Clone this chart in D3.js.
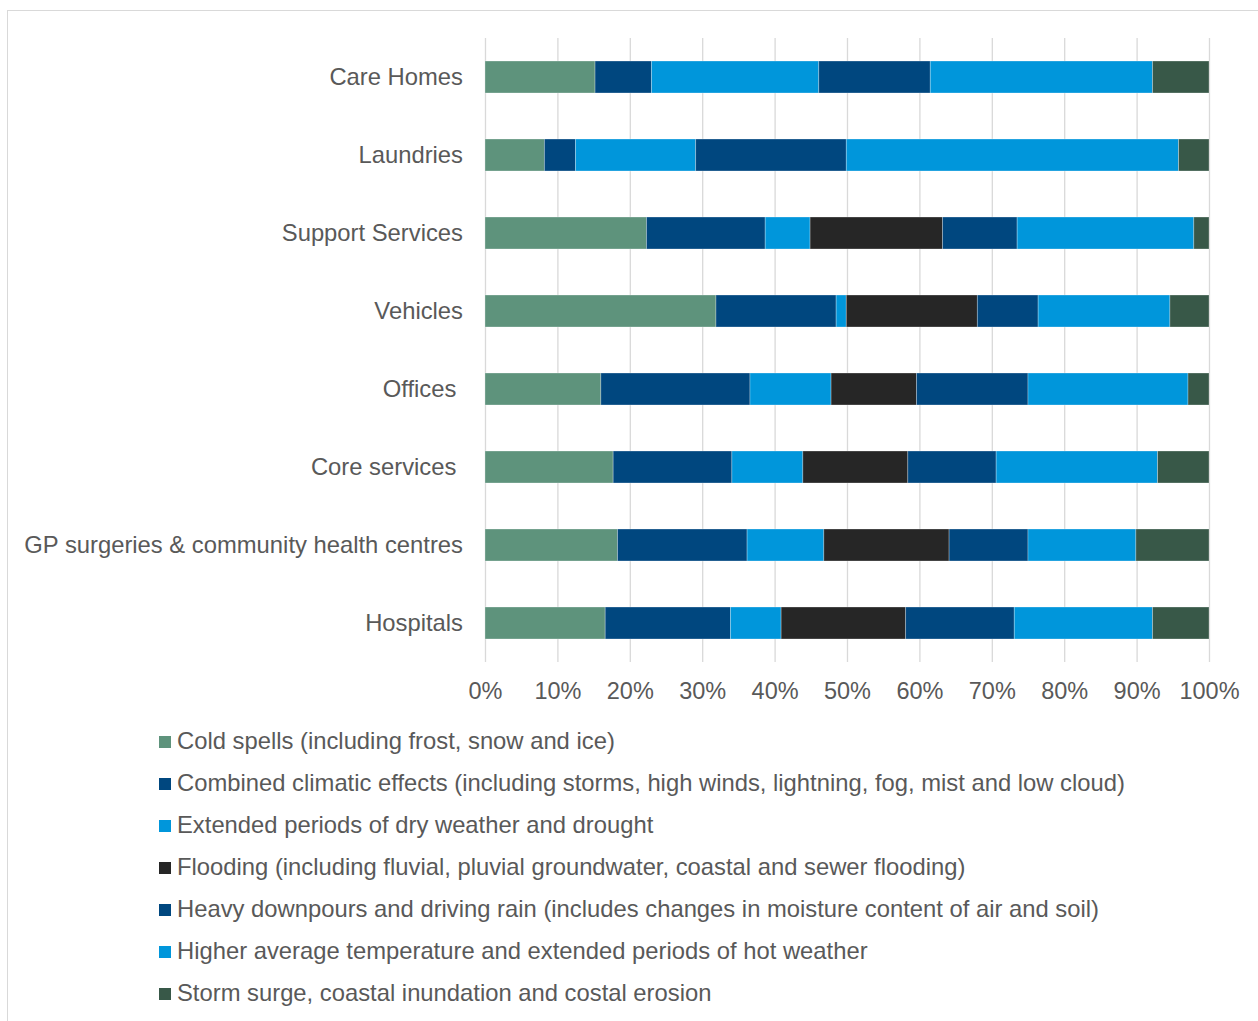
<!DOCTYPE html>
<html>
<head>
<meta charset="utf-8">
<script src="https://cdn.jsdelivr.net/npm/d3@7"></script>
<style>
  html, body { margin: 0; padding: 0; background: #ffffff; }
  svg { display: block; font-family: "Liberation Sans", Arial, sans-serif; }
  text { white-space: pre; }
</style>
</head>
<body>
<svg id="chart" width="1258" height="1021"></svg>
<script>
// Asset categories (top to bottom) and the share (%) of each climate hazard
const categories = [
  "Care Homes",
  "Laundries",
  "Support Services",
  "Vehicles",
  "Offices ",
  "Core services ",
  "GP surgeries & community health centres",
  "Hospitals"
];

const coldSpells      = [15.2,  8.2, 22.3, 31.9, 16.0, 17.7, 18.3, 16.6];
const combinedEffects = [ 7.8,  4.3, 16.4, 16.6, 20.6, 16.4, 17.9, 17.3];
const dryWeather      = [23.1, 16.6,  6.2,  1.4, 11.2,  9.8, 10.6,  7.0];
const flooding        = [ 0.0,  0.0, 18.3, 18.1, 11.8, 14.5, 17.3, 17.2];
const heavyDownpours  = [15.4, 20.8, 10.3,  8.4, 15.4, 12.2, 10.9, 15.0];
const higherTemp      = [30.7, 45.9, 24.4, 18.2, 22.1, 22.3, 14.9, 19.1];
const stormSurge      = [ 7.8,  4.2,  2.1,  5.4,  2.9,  7.1, 10.1,  7.8];

const seriesNames = [
  "Cold spells (including frost, snow and ice)",
  "Combined climatic effects (including storms, high winds, lightning, fog, mist and low cloud)",
  "Extended periods of dry weather and drought",
  "Flooding (including fluvial, pluvial groundwater, coastal and sewer flooding)",
  "Heavy downpours and driving rain (includes changes in moisture content of air and soil)",
  "Higher average temperature and extended periods of hot weather",
  "Storm surge, coastal inundation and costal erosion"
];
const seriesValues = [coldSpells, combinedEffects, dryWeather, flooding, heavyDownpours, higherTemp, stormSurge];
const seriesColors = ["#5e937c", "#00477f", "#0096db", "#262626", "#00477f", "#0096db", "#385848"];

const tickValues = [0, 10, 20, 30, 40, 50, 60, 70, 80, 90, 100];

// Row table for d3.stack
const rows = categories.map((c, i) => {
  const r = { category: c };
  seriesNames.forEach((s, k) => { r[s] = seriesValues[k][i]; });
  return r;
});

const svg = d3.select("#chart");
const textColor = "#595959";
const labelSize = "23.8px";

// Chart frame
svg.append("rect")
  .attr("x", 7.5).attr("y", 10.5)
  .attr("width", 1300).attr("height", 1100)
  .attr("fill", "none").attr("stroke", "#d9d9d9").attr("stroke-width", 1);

const x = d3.scaleLinear().domain([0, 100]).range([485, 1209]);
const y = d3.scaleBand().domain(categories).range([38, 662])
  .paddingInner(0.59).paddingOuter(0.295);

// Vertical gridlines and percentage labels
const xAxis = svg.append("g")
  .attr("transform", "translate(0,662)")
  .call(d3.axisBottom(x)
    .tickValues(tickValues)
    .tickFormat(d => d + "%")
    .tickSizeInner(-(662 - 38))
    .tickSizeOuter(0)
    .tickPadding(20));
xAxis.select(".domain").remove();
xAxis.selectAll(".tick line").attr("stroke", "#d9d9d9").attr("stroke-width", 1.3);
xAxis.selectAll(".tick text")
  .attr("fill", textColor)
  .style("font-size", "23.5px")
  .style("font-family", "'Liberation Sans', Arial, sans-serif");

// Stacked segments
const stack = d3.stack().keys(seriesNames);
const layers = stack(rows);

svg.append("g").selectAll("g")
  .data(layers)
  .join("g")
  .attr("fill", (d, i) => seriesColors[i])
  .selectAll("rect")
  .data(d => d)
  .join("rect")
  .attr("x", d => x(d[0]))
  .attr("y", d => y(d.data.category))
  .attr("width", d => Math.max(0, x(d[1]) - x(d[0])))
  .attr("height", y.bandwidth())
  .attr("stroke", "#ffffff")
  .attr("stroke-opacity", 0.35)
  .attr("stroke-width", 0.8);

// Category labels
const yAxis = svg.append("g")
  .attr("transform", "translate(463,0)")
  .call(d3.axisLeft(y).tickSize(0).tickPadding(0));
yAxis.select(".domain").remove();
yAxis.selectAll(".tick text")
  .attr("fill", textColor)
  .style("font-size", labelSize)
  .style("font-family", "'Liberation Sans', Arial, sans-serif");

// Legend
const legend = svg.append("g").selectAll("g")
  .data(seriesNames)
  .join("g")
  .attr("transform", (d, i) => `translate(159,${741 + 42 * i})`);
legend.append("rect")
  .attr("x", 0).attr("y", -5).attr("width", 12).attr("height", 12)
  .attr("fill", (d, i) => seriesColors[i]);
legend.append("text")
  .attr("x", 18).attr("y", 0).attr("dy", "0.35em")
  .attr("fill", textColor)
  .style("font-size", labelSize)
  .text(d => d);
</script>
</body>
</html>
